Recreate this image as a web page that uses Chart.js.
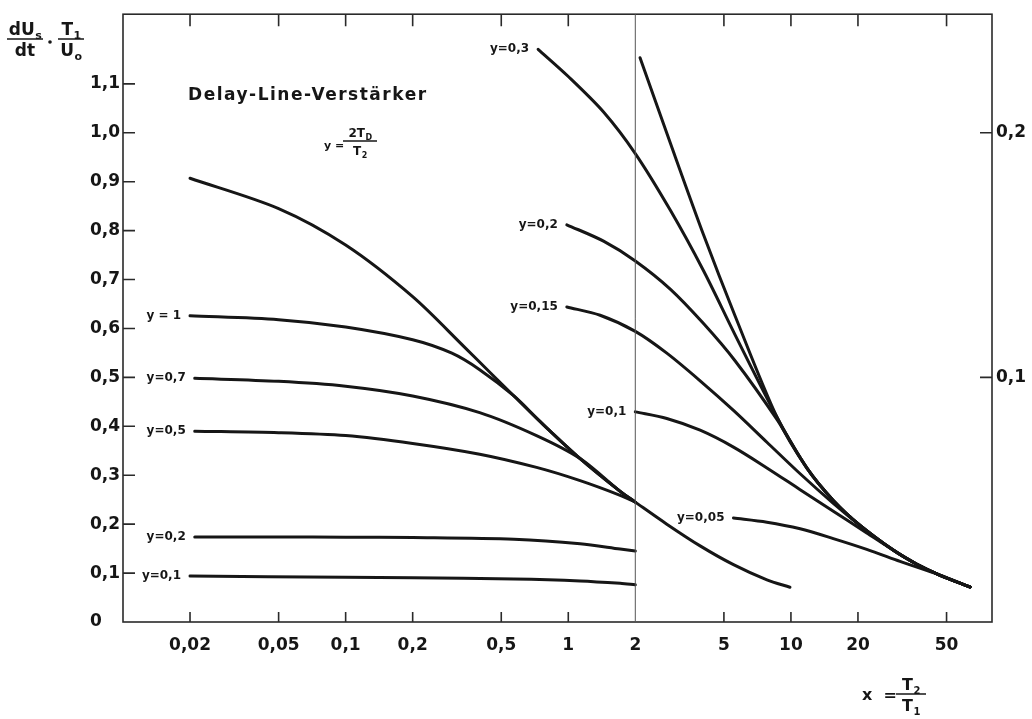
<!DOCTYPE html>
<html>
<head>
<meta charset="utf-8">
<title>Delay-Line-Verstärker</title>
<script src="https://cdn.jsdelivr.net/npm/chart.js@4.4.1/dist/chart.umd.min.js"></script>
<style>
  html, body { margin: 0; padding: 0; background: #fff; }
  canvas { display: block; }
</style>
</head>
<body>
<canvas id="chart" width="1032" height="719"></canvas>
<script>
/* x = T2/T1 on a log axis; left axis dUs/dt * T1/U0, right axis (x5 finer) for the small-y family */

// ---- axes ---------------------------------------------------
const xTicks  = [0.02, 0.05, 0.1, 0.2, 0.5, 1, 2, 5, 10, 20, 50];
const yTicks  = [0, 0.1, 0.2, 0.3, 0.4, 0.5, 0.6, 0.7, 0.8, 0.9, 1.0, 1.1];
const y2Ticks = [0.1, 0.2];
const xMin = 0.01, xMax = 80;
const yMax = 1.2424;
const xSplit = 2;

// ---- left family (left axis) --------------------------------
const envX  = [0.02, 0.05, 0.1, 0.2, 0.34, 0.45, 0.57, 0.75, 1.13, 1.71, 2, 2.77, 3.91, 5.52, 7.8, 9.9];
const envY  = [0.907, 0.845, 0.7705, 0.665, 0.563, 0.508, 0.462, 0.409, 0.334, 0.267, 0.245, 0.2, 0.1556, 0.1172, 0.0861, 0.071];

const y1X   = [0.02, 0.05, 0.1, 0.2, 0.3, 0.4, 0.57, 0.75, 1.13, 1.71, 2];
const y1Y   = [0.626, 0.618, 0.603, 0.577, 0.5495, 0.5158, 0.462, 0.409, 0.334, 0.267, 0.245];

const y07X  = [0.021, 0.05, 0.1, 0.2, 0.4, 0.72, 1.13, 1.71, 2];
const y07Y  = [0.498, 0.492, 0.482, 0.462, 0.428, 0.381, 0.334, 0.267, 0.245];

const y05X  = [0.021, 0.05, 0.1, 0.2, 0.4, 0.72, 1.13, 1.71, 2];
const y05Y  = [0.39, 0.387, 0.381, 0.365, 0.343, 0.316, 0.289, 0.259, 0.245];

const y02X  = [0.021, 0.05, 0.1, 0.2, 0.57, 1.13, 1.71, 2];
const y02Y  = [0.174, 0.1738, 0.1734, 0.1725, 0.169, 0.16, 0.149, 0.145];

const y01X  = [0.02, 0.1, 0.2, 0.57, 1.13, 1.71, 2];
const y01Y  = [0.094, 0.0915, 0.0905, 0.088, 0.084, 0.079, 0.076];

// ---- right family (right axis) ------------------------------
const envRX = [2.1, 2.87, 4.05, 5.62, 8.68, 11.8, 15.5, 20.5, 28.9, 36.8, 46.8, 63.8];
const envRY = [0.2307, 0.1959, 0.1583, 0.125, 0.0835, 0.0629, 0.0497, 0.0394, 0.0293, 0.0236, 0.0191, 0.0143];

const r03X  = [0.732, 1.0, 1.44, 2.0, 2.87, 4.05, 5.62, 8.68, 11.8, 15.5, 20.5, 28.9, 36.8, 46.8, 63.8];
const r03Y  = [0.2341, 0.223, 0.2085, 0.1915, 0.1684, 0.1436, 0.1173, 0.0835, 0.0629, 0.0497, 0.0394, 0.0293, 0.0236, 0.0191, 0.0143];

const r02X  = [0.985, 1.44, 2.0, 2.87, 4.05, 5.62, 8.68, 11.8, 15.5, 20.5, 28.9, 36.8, 46.8, 63.8];
const r02Y  = [0.1624, 0.1557, 0.1476, 0.1361, 0.122, 0.1067, 0.0826, 0.0629, 0.0497, 0.0394, 0.0293, 0.0236, 0.0191, 0.0143];

const r015X = [0.985, 1.39, 2.0, 2.77, 3.91, 5.52, 7.8, 11.0, 15.5, 20.5, 28.9, 36.8, 46.8, 63.8];
const r015Y = [0.1288, 0.1254, 0.1188, 0.1099, 0.0986, 0.0865, 0.0735, 0.0606, 0.0485, 0.0394, 0.0293, 0.0236, 0.0191, 0.0143];

const r01X  = [2.0, 2.77, 3.91, 5.52, 7.8, 11.0, 15.5, 21.9, 28.9, 36.8, 46.8, 63.8];
const r01Y  = [0.0859, 0.0832, 0.0784, 0.0715, 0.063, 0.0541, 0.0453, 0.0364, 0.0293, 0.0236, 0.0191, 0.0143];

const r005X = [5.52, 7.8, 11.0, 15.5, 21.9, 30.9, 46.8, 63.8];
const r005Y = [0.0425, 0.0408, 0.0381, 0.0341, 0.0297, 0.0248, 0.0191, 0.0143];

// ---- helpers ------------------------------------------------
const INK  = '#161616';
const FONT = '"DejaVu Sans", "Liberation Sans", sans-serif';

function pts(xs, ys) {
  return xs.map((x, i) => ({ x: x, y: ys[i] }));
}

function curve(label, xs, ys, axis) {
  return {
    label: label,
    data: pts(xs, ys),
    yAxisID: axis,
    borderColor: INK,
    borderWidth: 3,
    borderCapStyle: 'round',
    borderJoinStyle: 'round',
    pointRadius: 0,
    fill: false,
    tension: 0.3
  };
}

function comma(v, digits) {
  if (v === 0) return '0';
  return (digits === undefined ? String(v) : v.toFixed(digits)).replace('.', ',');
}

// text with an optional subscript; returns its width
function subText(ctx, main, sub, x, base, size, align) {
  ctx.font = `bold ${size}px ${FONT}`;
  const w1 = ctx.measureText(main).width;
  const subSize = Math.round(size * 0.64);
  ctx.font = `bold ${subSize}px ${FONT}`;
  const w2 = sub ? ctx.measureText(sub).width : 0;
  const x0 = align === 'center' ? x - (w1 + w2) / 2 : x;
  ctx.textAlign = 'left';
  ctx.textBaseline = 'alphabetic';
  ctx.font = `bold ${size}px ${FONT}`;
  ctx.fillText(main, x0, base);
  if (sub) {
    ctx.font = `bold ${subSize}px ${FONT}`;
    ctx.fillText(sub, x0 + w1 + 0.5, base + size * 0.24);
  }
  return w1 + w2;
}

function fraction(ctx, cx, barY, halfW, num, den, size) {
  subText(ctx, num[0], num[1], cx, barY - 4, size, 'center');
  subText(ctx, den[0], den[1], cx, barY + size * 0.73 + 5, size, 'center');
  ctx.lineWidth = 1.5;
  ctx.beginPath();
  ctx.moveTo(cx - halfW, barY);
  ctx.lineTo(cx + halfW, barY);
  ctx.stroke();
}

// spread a line of text over a given width
function spacedText(ctx, text, x, base, width) {
  ctx.letterSpacing = '0px';
  const w = ctx.measureText(text).width;
  ctx.letterSpacing = ((width - w) / (text.length - 1)).toFixed(2) + 'px';
  ctx.fillText(text, x, base);
  ctx.letterSpacing = '0px';
}

// frame, divider, inward ticks, curve labels and captions
const notesPlugin = {
  id: 'notes',
  afterDatasetsDraw(chart) {
    const { ctx, chartArea: a } = chart;
    const { x, y, y2 } = chart.scales;
    ctx.save();
    ctx.strokeStyle = '#2a2a2a';
    ctx.fillStyle = INK;

    ctx.lineWidth = 1.6;
    ctx.strokeRect(a.left, a.top, a.right - a.left, a.bottom - a.top);

    const xd = x.getPixelForValue(xSplit);
    ctx.lineWidth = 1;
    ctx.strokeStyle = '#555';
    ctx.beginPath();
    ctx.moveTo(xd, a.top);
    ctx.lineTo(xd, a.bottom);
    ctx.stroke();

    ctx.strokeStyle = '#2a2a2a';
    ctx.lineWidth = 1.6;
    ctx.beginPath();
    xTicks.forEach(v => {
      if (v === xSplit) return;
      const px = x.getPixelForValue(v);
      ctx.moveTo(px, a.bottom); ctx.lineTo(px, a.bottom - 10);
      ctx.moveTo(px, a.top);    ctx.lineTo(px, a.top + 12);
    });
    yTicks.forEach(v => {
      if (v === 0) return;
      const py = y.getPixelForValue(v);
      ctx.moveTo(a.left, py); ctx.lineTo(a.left + 12, py);
    });
    y2Ticks.forEach(v => {
      const py = y2.getPixelForValue(v);
      ctx.moveTo(a.right, py); ctx.lineTo(a.right - 12, py);
    });
    ctx.stroke();

    // parameter labels at the start of each curve
    ctx.font = `bold 12px ${FONT}`;
    ctx.textAlign = 'right';
    ctx.textBaseline = 'middle';
    chart.data.datasets.forEach((ds, i) => {
      if (!ds.label) return;
      const p = chart.getDatasetMeta(i).data[0];
      ctx.fillText(ds.label, p.x - 9, p.y);
    });

    // heading
    ctx.font = `bold 17px ${FONT}`;
    ctx.textAlign = 'left';
    ctx.textBaseline = 'alphabetic';
    spacedText(ctx, 'Delay-Line-Verstärker', 188, 100, 238);

    // y = 2TD / T2
    ctx.strokeStyle = INK;
    ctx.font = `bold 11px ${FONT}`;
    ctx.fillText('y =', 324, 149);
    fraction(ctx, 360, 141, 17, ['2T', 'D'], ['T', '2'], 12);

    // left axis caption
    fraction(ctx, 25, 39, 18, ['dU', 's'], ['dt', ''], 17);
    ctx.beginPath();
    ctx.arc(50, 42, 1.8, 0, Math.PI * 2);
    ctx.fill();
    fraction(ctx, 71, 39, 13, ['T', '1'], ['U', 'o'], 17);

    // x axis caption
    ctx.font = `bold 16px ${FONT}`;
    ctx.textAlign = 'left';
    ctx.fillText('x  =', 862, 700);
    fraction(ctx, 911, 694, 15, ['T', '2'], ['T', '1'], 16);

    ctx.restore();
  }
};

const datasets = [
  curve('',       envX,  envY,  'y'),
  curve('y = 1',  y1X,   y1Y,   'y'),
  curve('y=0,7',  y07X,  y07Y,  'y'),
  curve('y=0,5',  y05X,  y05Y,  'y'),
  curve('y=0,2',  y02X,  y02Y,  'y'),
  curve('y=0,1',  y01X,  y01Y,  'y'),
  curve('',       envRX, envRY, 'y2'),
  curve('y=0,3',  r03X,  r03Y,  'y2'),
  curve('y=0,2',  r02X,  r02Y,  'y2'),
  curve('y=0,15', r015X, r015Y, 'y2'),
  curve('y=0,1',  r01X,  r01Y,  'y2'),
  curve('y=0,05', r005X, r005Y, 'y2')
];

const tickFont = { family: FONT, size: 17, weight: 'bold' };

new Chart(document.getElementById('chart'), {
  type: 'line',
  data: { datasets: datasets },
  options: {
    responsive: false,
    animation: false,
    layout: { padding: { left: 90, top: 7, right: 0, bottom: 0 } },
    plugins: {
      legend: { display: false },
      tooltip: { enabled: false }
    },
    scales: {
      x: {
        type: 'logarithmic',
        min: xMin,
        max: xMax,
        grid: { display: false, drawTicks: false },
        border: { display: false },
        afterBuildTicks: s => { s.ticks = xTicks.map(v => ({ value: v })); },
        afterFit: s => { s.height = 97; },
        ticks: {
          autoSkip: false,
          maxRotation: 0,
          padding: 13,
          color: INK,
          font: tickFont,
          callback: v => comma(v)
        }
      },
      y: {
        type: 'linear',
        position: 'left',
        min: 0,
        max: yMax,
        grid: { display: false, drawTicks: false },
        border: { display: false },
        afterBuildTicks: s => { s.ticks = yTicks.map(v => ({ value: v })); },
        afterFit: s => { s.width = 33; },
        ticks: {
          crossAlign: 'far',
          color: INK,
          font: tickFont,
          callback: v => comma(v, 1)
        }
      },
      y2: {
        type: 'linear',
        position: 'right',
        min: 0,
        max: yMax / 5,
        grid: { display: false, drawTicks: false },
        border: { display: false },
        afterBuildTicks: s => { s.ticks = y2Ticks.map(v => ({ value: v })); },
        afterFit: s => { s.width = 40; },
        ticks: {
          padding: 4,
          color: INK,
          font: tickFont,
          callback: v => comma(v, 1)
        }
      }
    }
  },
  plugins: [notesPlugin]
});
</script>
</body>
</html>
